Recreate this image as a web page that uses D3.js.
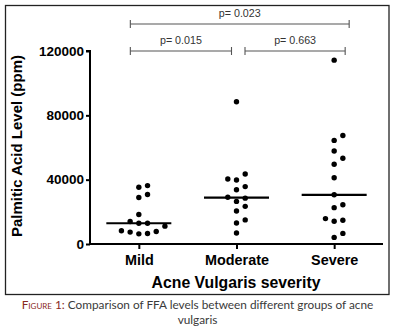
<!DOCTYPE html>
<html>
<head>
<meta charset="utf-8">
<script src="https://cdn.jsdelivr.net/npm/d3@7"></script>
<style>
  html, body { margin: 0; padding: 0; background: #fff; }
  svg { display: block; }
</style>
</head>
<body>
<svg id="chart" width="395" height="331"></svg>
<script>
// ---- data ----
const categories = ["Mild", "Moderate", "Severe"];
const mildValues = [36300, 35300, 30800, 28900, 18300, 14000, 12900, 12900, 11100, 8200, 7800, 7400, 6500, 6300];
const moderateValues = [88400, 43500, 40400, 39800, 35700, 33700, 29100, 28500, 26500, 23400, 20500, 15000, 13100, 6800];
const severeValues = [114300, 67500, 64400, 57800, 53300, 49600, 41200, 30600, 24400, 22600, 15800, 14800, 14100, 6600, 4100];
const yTicks = [0, 40000, 80000, 120000];
const comparisons = [
  { from: "Mild", to: "Severe", p: "p= 0.023", level: 2 },
  { from: "Mild", to: "Moderate", p: "p= 0.015", level: 1 },
  { from: "Moderate", to: "Severe", p: "p= 0.663", level: 1 }
];
const yTitle = "Palmitic Acid Level (ppm)";
const xTitle = "Acne Vulgaris severity";
const captionLabel = "Figure 1:";
const captionLine1 = " Comparison of FFA levels between different groups of acne";
const captionLine2 = "vulgaris";

const groups = [
  { name: "Mild", values: mildValues },
  { name: "Moderate", values: moderateValues },
  { name: "Severe", values: severeValues }
];

// ---- layout ----
const svg = d3.select("#chart");
const axisLeft = 90, axisRight = 383, axisBottom = 244, axisTop = 51;

const x = d3.scalePoint().domain(categories).range([axisLeft, axisRight]).padding(0.5);
const y = d3.scaleLinear().domain([0, 120000]).range([axisBottom, axisTop]);

// frame
svg.append("rect").attr("x", 5.5).attr("y", 5.5).attr("width", 383.5).attr("height", 289)
  .attr("fill", "none").attr("stroke", "#222").attr("stroke-width", 1.3);

const font = "'Liberation Sans', Arial, sans-serif";

// y axis
const yAxis = d3.axisLeft(y).tickValues(yTicks).tickSize(4).tickPadding(2).tickFormat(d3.format("d"));
const gy = svg.append("g").attr("transform", `translate(${axisLeft},0)`).call(yAxis);
gy.select(".domain").attr("d", `M-4,${axisTop}H0V${axisBottom}`).attr("stroke", "#000").attr("stroke-width", 2);
gy.selectAll(".tick line").attr("stroke", "#000").attr("stroke-width", 2);
gy.selectAll(".tick text").attr("font-family", font).attr("font-weight", "bold")
  .attr("font-size", "13.5px").attr("fill", "#000");

// x axis
const xAxis = d3.axisBottom(x).tickSize(5).tickPadding(3);
const gx = svg.append("g").attr("transform", `translate(0,${axisBottom})`).call(xAxis);
gx.select(".domain").attr("d", `M${axisLeft - 1},0H${axisRight}`).attr("stroke", "#000").attr("stroke-width", 2);
gx.selectAll(".tick line").attr("stroke", "#000").attr("stroke-width", 2);
gx.selectAll(".tick text").attr("font-family", font).attr("font-weight", "bold")
  .attr("font-size", "14.4px").attr("fill", "#000").attr("dy", "0.9em");

// beeswarm placement (greedy, ascending values)
const r = 2.7, slot = 8.7, minDy = 8;
groups.forEach(g => {
  const cx = x(g.name);
  const placed = [];
  const sorted = g.values.slice().sort((a, b) => a - b);
  sorted.forEach(v => {
    const py = y(v);
    let k = 0;
    const cands = [0];
    for (let i = 1; i < 10; i++) { cands.push(i, -i); }
    for (const c of cands) {
      const clash = placed.some(p => p.k === c && Math.abs(p.py - py) < minDy);
      if (!clash) { k = c; break; }
    }
    placed.push({ v, py, k });
  });
  svg.append("g").selectAll("circle").data(placed).join("circle")
    .attr("cx", d => cx + d.k * slot)
    .attr("cy", d => y(d.v))
    .attr("r", r)
    .attr("fill", "#000");
  // median line
  const med = d3.median(g.values);
  svg.append("line")
    .attr("x1", cx - 32.5).attr("x2", cx + 32.5)
    .attr("y1", y(med)).attr("y2", y(med))
    .attr("stroke", "#000").attr("stroke-width", 2.2);
});

// comparison brackets
const bracketY = { 1: 51, 2: 24 };
const endPad = {
  "Mild-Severe": [-8.5, 15],
  "Mild-Moderate": [-8.5, -5],
  "Moderate-Severe": [8.5, 11]
};
comparisons.forEach(c => {
  const pad = endPad[c.from + "-" + c.to];
  const x1 = x(c.from) + pad[0], x2 = x(c.to) + pad[1];
  const by = bracketY[c.level];
  const g = svg.append("g").attr("stroke", "#555").attr("stroke-width", 1.1).attr("fill", "none");
  g.append("line").attr("x1", x1).attr("x2", x2).attr("y1", by).attr("y2", by);
  g.append("line").attr("x1", x1).attr("x2", x1).attr("y1", by - 4).attr("y2", by + 4);
  g.append("line").attr("x1", x2).attr("x2", x2).attr("y1", by - 4).attr("y2", by + 4);
  svg.append("text").attr("x", (x1 + x2) / 2).attr("y", by - 7)
    .attr("text-anchor", "middle").attr("font-family", font).attr("font-size", "10.7px")
    .attr("fill", "#333").text(c.p);
});

// axis titles
svg.append("text").attr("transform", `translate(22,146) rotate(-90)`)
  .attr("text-anchor", "middle").attr("font-family", font).attr("font-weight", "bold")
  .attr("font-size", "15px").attr("fill", "#000").text(yTitle);

svg.append("text").attr("x", 236).attr("y", 288)
  .attr("text-anchor", "middle").attr("font-family", font).attr("font-weight", "bold")
  .attr("font-size", "15.8px").attr("fill", "#000").text(xTitle);

// caption
const capFont = "Lato, 'Open Sans', sans-serif";
const cap = svg.append("text").attr("x", 197.5).attr("y", 309)
  .attr("text-anchor", "middle").attr("font-family", capFont)
  .attr("font-size", "11.8px").attr("fill", "#3a3a3a");
cap.append("tspan").attr("fill", "#8a2a22").attr("font-variant", "small-caps").text(captionLabel);
cap.append("tspan").text(captionLine1);
svg.append("text").attr("x", 197.5).attr("y", 324)
  .attr("text-anchor", "middle").attr("font-family", capFont)
  .attr("font-size", "11.8px").attr("fill", "#3a3a3a").text(captionLine2);
</script>
</body>
</html>
